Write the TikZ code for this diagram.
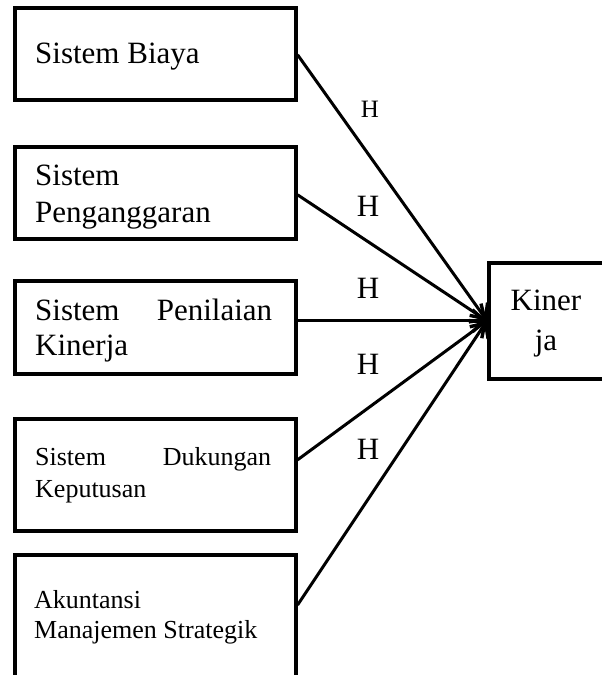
\documentclass[tikz,border=0pt]{standalone}
\usepackage{fontspec}
\setmainfont{Liberation Serif}
\usetikzlibrary{arrows.meta}
\tikzset{
  boxnode/.style={draw=black, line width=3.6pt, rectangle, inner sep=0pt, anchor=north west},
  bigtxt/.style={inner sep=0pt, anchor=base west, font=\fontsize{31}{37}\selectfont},
  smalltxt/.style={inner sep=0pt, anchor=base west, font=\fontsize{26}{31}\selectfont},
  hlab/.style={inner sep=0pt, anchor=base, font=\fontsize{31}{37}\selectfont},
  conn/.style={draw=black, line width=3pt, -{Straight Barb[length=12pt,width=22pt,line width=3.4pt]}}
}
\begin{document}
\begin{tikzpicture}[x=1pt,y=-1pt]
\useasboundingbox (0,0) rectangle (602,675);
\clip (0,0) rectangle (602,675);
% boxes
\node[boxnode, minimum width=281pt, minimum height=92pt] (b1) at (13,6) {};
\node[boxnode, minimum width=281pt, minimum height=92pt] (b2) at (13,145) {};
\node[boxnode, minimum width=281pt, minimum height=93pt] (b3) at (13,279) {};
\node[boxnode, minimum width=281pt, minimum height=112pt] (b4) at (13,417) {};
\node[boxnode, minimum width=281pt, minimum height=150pt] (b5) at (13,553) {};
\node[boxnode, minimum width=140pt, minimum height=116pt] (k) at (487,261) {};
% texts
\node[bigtxt] (t1) at (35,63) {Sistem Biaya};
\node[bigtxt] (t2a) at (35,185) {Sistem};
\node[bigtxt] (t2b) at (35,222) {Penganggaran};
\node[bigtxt] (t3a) at (35,320) {\makebox[237pt][l]{Sistem\hfill Penilaian}};
\node[bigtxt] (t3b) at (35,355) {Kinerja};
\node[smalltxt] (t4a) at (35,465) {\makebox[236pt][l]{Sistem\hfill Dukungan}};
\node[smalltxt] (t4b) at (35,497) {Keputusan};
\node[smalltxt] (t5a) at (34,608) {Akuntansi};
\node[smalltxt] (t5b) at (34,638) {Manajemen Strategik};
\node[hlab] (ka) at (546,310) {Kiner};
\node[hlab] (kb) at (546,350) {ja};
% H labels
\node[hlab, font=\fontsize{25}{30}\selectfont] (h1) at (370,117) {H};
\node[hlab] (h2) at (368,216) {H};
\node[hlab] (h3) at (368,298) {H};
\node[hlab] (h4) at (368,374) {H};
\node[hlab] (h5) at (368,459) {H};
% connectors
\draw[conn] ([yshift=-1pt]b1.east) -- (k.west);
\draw[conn] ([yshift=-2pt]b2.east) -- (k.west);
\draw[conn] (b3.east |- k.west) -- (k.west);
\draw[conn] ([yshift=15pt]b4.east) -- (k.west);
\draw[conn] ([yshift=-52pt]b5.north east) -- (k.west);
\end{tikzpicture}
\end{document}
